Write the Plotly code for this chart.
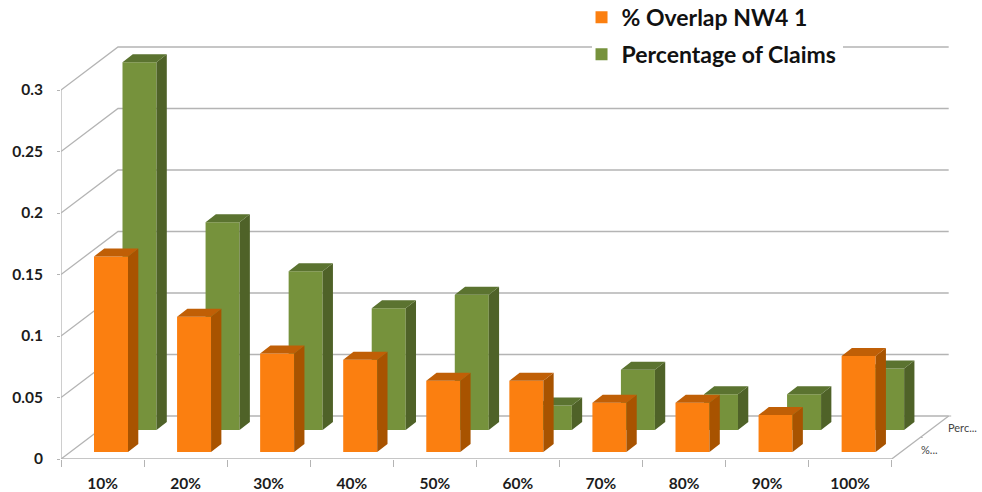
import plotly.graph_objects as go

categories = ["10%", "20%", "30%", "40%", "50%", "60%", "70%", "80%", "90%", "100%"]
overlap_values = [0.159, 0.11, 0.08, 0.075, 0.058, 0.058, 0.04, 0.04, 0.03, 0.078]
claims_values = [0.299, 0.169, 0.129, 0.099, 0.11, 0.02, 0.049, 0.029, 0.029, 0.05]
value_ticks = [0, 0.05, 0.1, 0.15, 0.2, 0.25, 0.3]
value_labels = ["0", "0.05", "0.1", "0.15", "0.2", "0.25", "0.3"]

WIDTH, HEIGHT = 982, 492
LEFT, BOTTOM = 61, 33
PX_PER_CAT, PX_PER_VAL = 83.07, 1230.0
X_MAX = (WIDTH - LEFT) / PX_PER_CAT
Y_MAX = (HEIGHT - BOTTOM) / PX_PER_VAL

# Oblique projection: how far the back wall and a bar's own depth shift a point.
WALL_DX, WALL_DY = 57 / PX_PER_CAT, 43 / PX_PER_VAL
BAR_DX, BAR_DY = 10.3 / PX_PER_CAT, 8 / PX_PER_VAL
BAR_WIDTH = 34 / PX_PER_CAT

GRID = "#b4b4b4"
TEXT = "#1c1c1c"
FONT = "Lato"
N = len(categories)


def polyline(points):
    xs, ys = [], []
    for segment in points:
        xs += [p[0] for p in segment] + [None]
        ys += [p[1] for p in segment] + [None]
    return xs, ys


fig = go.Figure()

# Walls and floor
wall_segments = []
for v in value_ticks:
    wall_segments.append([(0, v), (WALL_DX, v + WALL_DY), (N + WALL_DX, v + WALL_DY)])
wall_segments.append([(0, 0), (0, value_ticks[-1])])
wall_segments.append([(0, 0), (N, 0), (N + WALL_DX, WALL_DY)])
gx, gy = polyline(wall_segments)
fig.add_trace(go.Scatter(x=gx, y=gy, mode="lines", line=dict(color=GRID, width=1.3),
                         showlegend=False, hoverinfo="skip", xaxis="x", yaxis="y",
                         cliponaxis=False))

# Depth-axis tick marks on the right side of the floor
depth_ticks = polyline([
    [(N + WALL_DX / 2, WALL_DY / 2), (N + WALL_DX / 2 + 0.03, WALL_DY / 2)],
    [(N + WALL_DX, WALL_DY), (N + WALL_DX + 0.03, WALL_DY)],
])
fig.add_trace(go.Scatter(x=depth_ticks[0], y=depth_ticks[1], mode="lines",
                         line=dict(color=GRID, width=1), showlegend=False,
                         hoverinfo="skip", xaxis="x", yaxis="y"))


def add_series(name, values, x_start, base, front, side, top, rank, xaxis, yaxis):
    centers = [i + x_start + BAR_WIDTH / 2 for i in range(N)]
    fig.add_trace(go.Bar(x=centers, y=values, base=[base] * N, width=BAR_WIDTH, name=name,
                         marker=dict(color=front, line=dict(width=0)), legendrank=rank,
                         legendgroup=name, hoverinfo="skip", xaxis=xaxis, yaxis=yaxis))
    side_polys, top_polys = [], []
    for c, v in zip(centers, values):
        l, r = c - BAR_WIDTH / 2, c + BAR_WIDTH / 2
        t = base + v
        side_polys.append([(r, base), (r + BAR_DX, base + BAR_DY), (r + BAR_DX, t + BAR_DY),
                           (r, t), (r, base)])
        top_polys.append([(l, t), (l + BAR_DX, t + BAR_DY), (r + BAR_DX, t + BAR_DY),
                          (r, t), (l, t)])
    for polys, color in ((side_polys, side), (top_polys, top)):
        px, py = polyline(polys)
        fig.add_trace(go.Scatter(x=px, y=py, mode="lines", fill="toself", fillcolor=color,
                                 line=dict(width=0, color=color), showlegend=False,
                                 hoverinfo="skip", xaxis=xaxis, yaxis=yaxis))


add_series("Percentage of Claims", claims_values, (122.5 - LEFT) / PX_PER_CAT, 29 / PX_PER_VAL,
           "#76923c", "#4f6228", "#5b7330", 2, "x2", "y2")
add_series("% Overlap NW4 1", overlap_values, (94 - LEFT) / PX_PER_CAT, 7 / PX_PER_VAL,
           "#fb7f10", "#a85300", "#c05f06", 1, "x3", "y3")

# Truncated depth-axis series names
for text, x_px, y_px in (("Perc...", 946, 427), ("%...", 919, 449)):
    fig.add_annotation(x=(x_px - LEFT) / PX_PER_CAT, y=(HEIGHT - BOTTOM - y_px) / PX_PER_VAL,
                       xref="x", yref="y", text=text, showarrow=False, xanchor="left",
                       font=dict(family=FONT, size=11, color="#444444"))

# Clear the top wall line behind the legend
fig.add_shape(type="rect", xref="paper", yref="paper", layer="above",
              x0=(592 - LEFT) / (WIDTH - LEFT), x1=(843 - LEFT) / (WIDTH - LEFT),
              y0=1 - 52 / (HEIGHT - BOTTOM), y1=1 - 42 / (HEIGHT - BOTTOM),
              fillcolor="white", line=dict(width=0))

overlay = dict(range=[0, X_MAX], visible=False, fixedrange=True)
overlay_y = dict(range=[0, Y_MAX], visible=False, fixedrange=True)
tick_font = dict(family=FONT, size=15.5, color=TEXT, weight="bold")
fig.update_layout(
    width=WIDTH, height=HEIGHT, margin=dict(l=LEFT, r=0, t=0, b=BOTTOM, autoexpand=False),
    paper_bgcolor="white", plot_bgcolor="white", barmode="overlay",
    font=dict(family=FONT, color=TEXT),
    xaxis=dict(range=[0, X_MAX], tickvals=[i + 0.5 for i in range(N)], ticktext=categories,
               ticks="", ticklen=0, showgrid=False, zeroline=False, showline=False,
               tickfont=tick_font, ticklabelstandoff=13, automargin=False,
               minor=dict(tickvals=list(range(N + 1)), ticks="outside", ticklen=7,
                          tickcolor=GRID, tickwidth=1, showgrid=False)),
    yaxis=dict(range=[0, Y_MAX], tickvals=value_ticks, ticktext=value_labels,
               ticks="outside", ticklen=3, tickcolor=GRID, showgrid=False, zeroline=False,
               showline=False, tickfont=tick_font, ticklabelstandoff=11, automargin=False),
    xaxis2=dict(overlaying="x", **overlay), yaxis2=dict(overlaying="y", **overlay_y),
    xaxis3=dict(overlaying="x", **overlay), yaxis3=dict(overlaying="y", **overlay_y),
    legend=dict(x=555 / WIDTH, y=1.009, xanchor="left", yanchor="top", bgcolor="rgba(0,0,0,0)",
                borderwidth=0, font=dict(family=FONT, size=23, color="#111111", weight="bold"),
                tracegroupgap=4, itemclick=False, itemdoubleclick=False),
)

fig.write_html("out.html", config=dict(displayModeBar=False))
